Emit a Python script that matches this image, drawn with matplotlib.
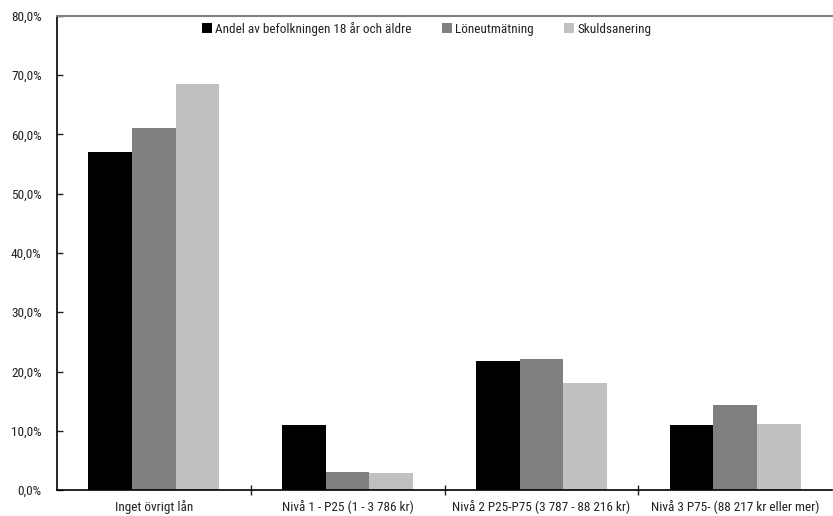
import matplotlib
matplotlib.use("Agg")
import matplotlib.pyplot as plt
from matplotlib import font_manager as fm
import numpy as np
from matplotlib.ticker import FuncFormatter, FixedLocator

# find a narrow/condensed font if one is installed
cand = None
for f in fm.fontManager.ttflist:
    n = (f.name + ' ' + f.fname).lower()
    if ('narrow' in n or 'condensed' in n) and 'bold' not in n and 'oblique' not in n and 'italic' not in n:
        cand = f
        if 'liberation' in n or 'arial' in n:
            break
if cand is not None:
    fp = fm.FontProperties(fname=cand.fname)
    fsize = 9.5
else:
    fp = fm.FontProperties(family=['Liberation Sans', 'DejaVu Sans'])
    fsize = 8.2

categories = ["Inget övrigt lån", "Nivå 1 - P25 (1 - 3 786 kr)",
              "Nivå 2 P25-P75 (3 787 - 88 216 kr)", "Nivå 3 P75- (88 217 kr eller mer)"]
series_names = ["Andel av befolkningen 18 år och äldre", "Löneutmätning", "Skuldsanering"]
andel = [57.0, 10.9, 21.7, 10.9]
loneutmatning = [61.1, 3.0, 22.1, 14.4]
skuldsanering = [68.5, 2.9, 18.0, 11.2]
colors = ["#000000", "#808080", "#c0c0c0"]

fig = plt.figure(figsize=(8.33, 5.16), dpi=100)
ax = fig.add_axes([57/833, 1 - 490/516, (832-57)/833, (490-16)/516])

x = np.arange(len(categories))
w = 0.225
for i, (vals, name) in enumerate(zip([andel, loneutmatning, skuldsanering], series_names)):
    ax.bar(x + (i - 1) * w, vals, width=w, color=colors[i], label=name, zorder=2)

ax.set_xlim(-0.5, len(categories) - 0.5)
ax.set_ylim(0, 80)
ax.yaxis.set_major_locator(FixedLocator(np.arange(0, 81, 10)))
ax.yaxis.set_major_formatter(FuncFormatter(lambda v, p: f"{v:.1f}%".replace('.', ',')))
ax.tick_params(axis='y', direction='in', length=4, width=1, pad=11, colors='#222222')
for t in ax.get_yticklabels():
    t.set_fontproperties(fp)
    t.set_fontsize(fsize)

ax.set_xticks(x)
ax.set_xticklabels(categories, color='#222222')
for t in ax.get_xticklabels():
    t.set_fontproperties(fp)
    t.set_fontsize(fsize)
ax.set_xticks(np.arange(0.5, len(categories) - 0.5, 1), minor=True)
ax.tick_params(axis='x', which='major', length=0, pad=7)
ax.tick_params(axis='x', which='minor', direction='inout', length=7, width=1, color='#222222')

for s in ['left', 'bottom']:
    ax.spines[s].set_color('#000000')
    ax.spines[s].set_linewidth(1.2)
ax.spines['top'].set_color('#808080')
ax.spines['top'].set_linewidth(1.5)
ax.spines['right'].set_visible(False)

lp = fp.copy()
lp.set_size(fsize)
leg = ax.legend(loc='upper center', bbox_to_anchor=(0.477, 1.005), ncol=3, frameon=False,
                prop=lp, handlelength=0.75, handleheight=0.75, handletextpad=0.25,
                columnspacing=2.3, borderaxespad=0.2)
for t in leg.get_texts():
    t.set_color('#222222')

fig.savefig("out.png", dpi=100)
